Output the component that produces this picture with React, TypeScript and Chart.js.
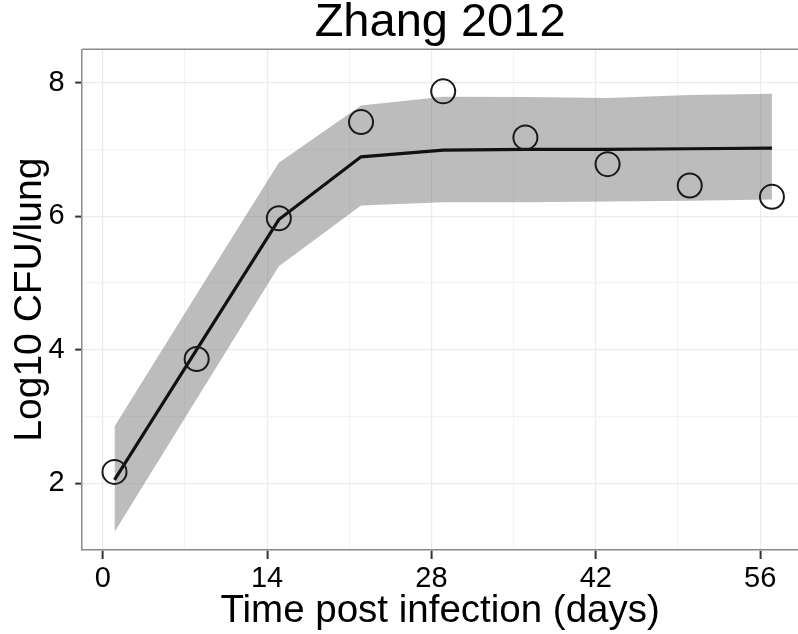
import React, { useEffect, useRef } from "react";
import { Chart, registerables } from "chart.js";

Chart.register(...registerables);

// Sampling days (post infection)
const days = [1, 8, 15, 22, 29, 36, 43, 50, 57];
// Observed log10 CFU per lung
const observed = [2.17, 3.86, 5.97, 7.41, 7.87, 7.18, 6.78, 6.46, 6.29];
// Model prediction (median) and its prediction band
const predicted = [2.05, 4.0, 5.95, 6.89, 6.99, 7.0, 7.0, 7.01, 7.02];
const bandUpper = [2.85, 4.83, 6.8, 7.66, 7.79, 7.785, 7.77, 7.815, 7.835];
const bandLower = [1.27, 3.26, 5.25, 6.16, 6.21, 6.21, 6.22, 6.23, 6.25];

// Axis ticks (labelled) and minor grid positions
const xTickValues = [0, 14, 28, 42, 56];
const xMinorValues = [7, 21, 35, 49];
const yTickValues = [2, 4, 6, 8];
const yMinorValues = [1, 3, 5, 7];

const titleText = "Zhang 2012";
const xTitle = "Time post infection (days)";
const yTitle = "Log10 CFU/lung";

const FONT = "'Liberation Sans', Arial, sans-serif";

const toXY = (ys: number[]) => days.map((d, i) => ({ x: d, y: ys[i] }));

// Draws the upper edge of the panel frame
const topBorder = {
  id: "topBorder",
  afterDraw(chart: any) {
    const { ctx, chartArea } = chart;
    ctx.save();
    ctx.strokeStyle = "#8a8a8a";
    ctx.lineWidth = 1.5;
    ctx.beginPath();
    ctx.moveTo(chartArea.left, chartArea.top);
    ctx.lineTo(chartArea.right, chartArea.top);
    ctx.stroke();
    ctx.restore();
  },
};

export default function App() {
  const canvasRef = useRef<HTMLCanvasElement | null>(null);

  useEffect(() => {
    if (!canvasRef.current) return;
    const xMajor = new Set(xTickValues);
    const yMajor = new Set(yTickValues);
    const chart = new Chart(canvasRef.current, {
      type: "line",
      data: {
        datasets: [
          {
            label: "observed",
            data: toXY(observed),
            showLine: false,
            pointRadius: 12,
            pointHoverRadius: 12,
            pointBorderWidth: 2,
            pointBorderColor: "#1a1a1a",
            pointBackgroundColor: "rgba(0,0,0,0)",
            order: 0,
          },
          {
            label: "predicted",
            data: toXY(predicted),
            borderColor: "#111111",
            borderWidth: 3.2,
            pointRadius: 0,
            fill: false,
            order: 1,
          },
          {
            label: "upper",
            data: toXY(bandUpper),
            borderWidth: 0,
            borderColor: "rgba(0,0,0,0)",
            pointRadius: 0,
            backgroundColor: "rgba(127,127,127,0.52)",
            fill: "+1",
            order: 2,
          },
          {
            label: "lower",
            data: toXY(bandLower),
            borderWidth: 0,
            borderColor: "rgba(0,0,0,0)",
            pointRadius: 0,
            fill: false,
            order: 3,
          },
        ],
      },
      options: {
        animation: false,
        responsive: false,
        events: [],
        layout: { padding: 0, autoPadding: false },
        plugins: {
          legend: { display: false },
          tooltip: { enabled: false },
          title: {
            display: true,
            text: titleText,
            fullSize: false,
            color: "#000",
            font: { family: FONT, size: 47, weight: "normal", lineHeight: 1 },
            padding: { top: 0, bottom: 2.3 },
          },
        },
        scales: {
          x: {
            type: "linear",
            min: -1.75,
            max: 59.22,
            afterBuildTicks: (scale: any) => {
              scale.ticks = [...xTickValues, ...xMinorValues]
                .sort((a, b) => a - b)
                .map((v) => ({ value: v }));
            },
            afterFit: (scale: any) => {
              scale.height = 84;
              scale.paddingLeft = 0;
              scale.paddingRight = 0;
            },
            ticks: {
              autoSkip: false,
              maxRotation: 0,
              padding: 2.6,
              color: "#000",
              font: { family: FONT, size: 29 },
              callback: (v: any) => (xMajor.has(v) ? String(v) : ""),
            },
            grid: {
              color: (c: any) => (xMajor.has(c.tick?.value) ? "#ebebeb" : "#f3f3f3"),
              lineWidth: 1.2,
              tickLength: 9,
              tickWidth: 2,
              tickColor: (c: any) => (xMajor.has(c.tick?.value) ? "#333" : "rgba(0,0,0,0)"),
            },
            border: { display: true, color: "#8a8a8a", width: 1.5 },
            title: {
              display: true,
              text: xTitle,
              color: "#000",
              font: { family: FONT, size: 38.5, lineHeight: 1.2 },
              padding: { top: 0, bottom: 0 },
            },
          },
          y: {
            type: "linear",
            min: 1,
            max: 8.5,
            afterBuildTicks: (scale: any) => {
              scale.ticks = [...yTickValues, ...yMinorValues]
                .sort((a, b) => a - b)
                .map((v) => ({ value: v }));
            },
            afterFit: (scale: any) => {
              scale.width = 82.2;
              scale.paddingTop = 0;
              scale.paddingBottom = 0;
            },
            ticks: {
              autoSkip: false,
              padding: 10.6,
              color: "#000",
              font: { family: FONT, size: 29 },
              callback: (v: any) => (yMajor.has(v) ? String(v) : ""),
            },
            grid: {
              color: (c: any) => (yMajor.has(c.tick?.value) ? "#ebebeb" : "#f3f3f3"),
              lineWidth: 1.2,
              tickLength: 7,
              tickWidth: 2,
              tickColor: (c: any) => (yMajor.has(c.tick?.value) ? "#333" : "rgba(0,0,0,0)"),
            },
            border: { display: true, color: "#8a8a8a", width: 1.5 },
            title: {
              display: true,
              text: yTitle,
              color: "#000",
              font: { family: FONT, size: 39, lineHeight: 1.2 },
              padding: { top: 6.4, bottom: 0 },
            },
          },
        },
      },
      plugins: [topBorder],
    } as any);
    return () => chart.destroy();
  }, []);

  return (
    <div
      style={{
        position: "fixed",
        left: 0,
        top: 0,
        width: 798,
        height: 634,
        overflow: "hidden",
        background: "#fff",
      }}
    >
      <canvas ref={canvasRef} width={798} height={634} style={{ display: "block" }} />
    </div>
  );
}
